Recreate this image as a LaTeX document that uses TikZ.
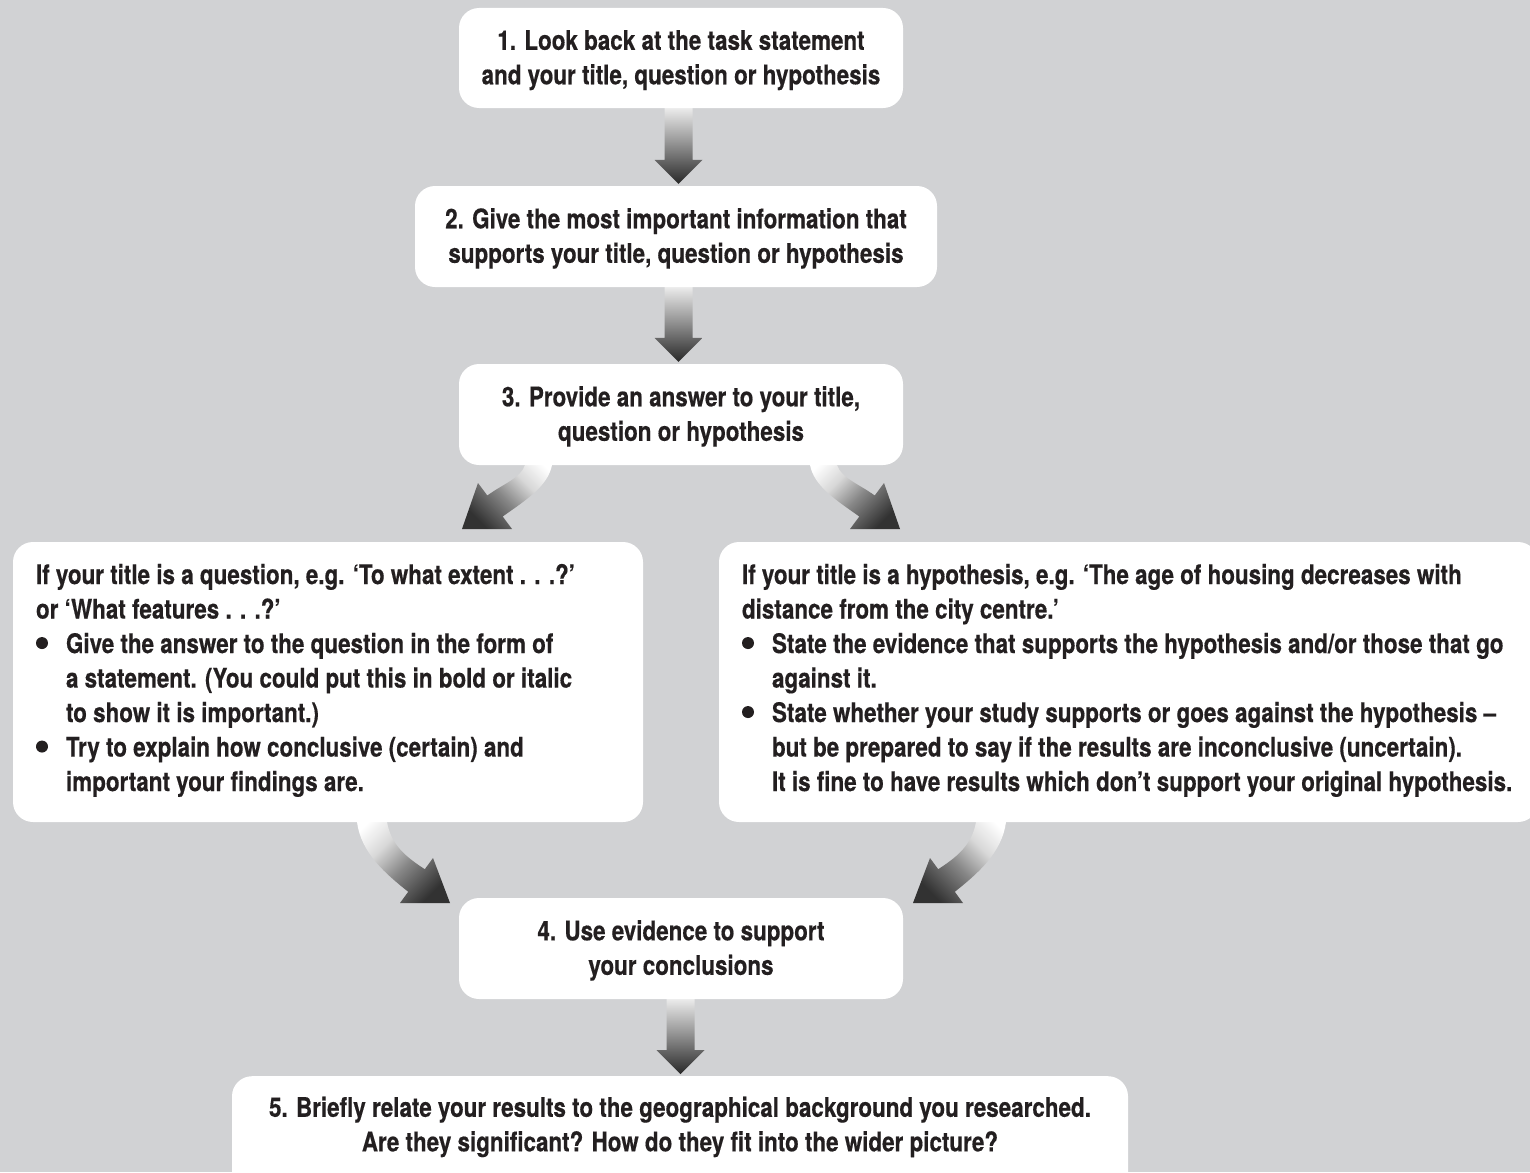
\documentclass[tikz,border=0pt]{standalone}
\usepackage{fontspec}
\setmainfont{TeX Gyre Heros}[FakeStretch=0.83, BoldFeatures={FakeBold=0.4}]
\usetikzlibrary{calc}

\definecolor{pagebg}{RGB}{209,210,212}
\definecolor{ink}{RGB}{35,31,32}
\definecolor{arrdark}{RGB}{40,40,40}
\definecolor{arrmid}{RGB}{150,150,150}
\definecolor{benddark}{RGB}{50,50,50}
\definecolor{bendmid}{RGB}{135,135,135}
\definecolor{bendlight}{RGB}{215,215,215}

% grey fade used by the straight arrows: white at the tail, dark at the tip
\pgfdeclareverticalshading{arrowfade}{100bp}{%
  color(0bp)=(arrdark); color(25bp)=(arrdark); color(50bp)=(arrmid);
  color(75bp)=(white); color(100bp)=(white)}
% grey fade used by the curved arrows (applied at an angle)
\pgfdeclareverticalshading{bendfade}{100bp}{%
  color(0bp)=(benddark); color(25bp)=(benddark); color(45bp)=(bendmid);
  color(60bp)=(bendlight); color(75bp)=(white); color(100bp)=(white)}

\pgfdeclarelayer{backdrop}
\pgfdeclarelayer{arrows}
\pgfsetlayers{backdrop,arrows,main}

\tikzset{
  stepbox/.style={fill=white, rounded corners=20pt, inner sep=0pt},
  flowtext/.style={text=ink, font=\bfseries\fontsize{27}{34.5}\selectfont,
    align=center, inner sep=0pt},
  flowarrow/.style={shading=arrowfade},
  bendarrow/.style={shading=bendfade},
}

% tall strut for the first line of each text block
\newcommand\lineup{\rule{0pt}{24pt}}
% round list bullet and list indentation
\newcommand\dotmark{\tikz[baseline=0pt]\fill[ink] (6pt,10pt) circle[radius=6pt];}
\newcommand\itemline{\makebox[30pt][l]{\dotmark}}
\newcommand\hangline{\hspace*{30pt}}

% straight downward arrow between two boxes
\newcommand\flowdown[2]{%
  \begin{pgfonlayer}{arrows}
  \shade[flowarrow] let \p1=(#1.south), \p2=(#2.north),
      \p3=($(#1.south)!0.5!(#2.north)$) in
    (\x3-14pt,\y1+8pt) -- (\x3+14pt,\y1+8pt) -- (\x3+14pt,\y2+26pt)
    -- (\x3+24pt,\y2+26pt) -- (\x3,\y2+2pt) -- (\x3-24pt,\y2+26pt)
    -- (\x3-14pt,\y2+26pt) -- cycle;
  \end{pgfonlayer}}

\begin{document}
\begin{tikzpicture}[x=1pt,y=-1pt]
\useasboundingbox (0,0) rectangle (1530,1172);
\begin{pgfonlayer}{backdrop}
  \fill[pagebg] (0,0) rectangle (1530,1172);
\end{pgfonlayer}

% boxes
\node[stepbox, flowtext, minimum width=444pt, minimum height=100pt] (b1) at (681,58)
  {\lineup 1. Look back at the task statement\\ and your title, question or hypothesis};
\node[stepbox, flowtext, minimum width=522pt, minimum height=101pt] (b2) at (676,236.5)
  {\lineup 2. Give the most important information that\\ supports your title, question or hypothesis};
\node[stepbox, flowtext, minimum width=444pt, minimum height=101pt] (b3) at (681,414.5)
  {\lineup 3. Provide an answer to your title,\\ question or hypothesis};

\node[stepbox, minimum width=630pt, minimum height=280pt] (bL) at (328,682) {};
\node[flowtext, align=left, anchor=west] (tL) at ([xshift=23pt,yshift=3.5pt]bL.west)
  {\lineup If your title is a question, e.g. ‘To what extent . . .?’\\
   or ‘What features . . .?’\\
   \itemline Give the answer to the question in the form of\\
   \hangline a statement. (You could put this in bold or italic\\
   \hangline to show it is important.)\\
   \itemline Try to explain how conclusive (certain) and\\
   \hangline important your findings are.};

\node[stepbox, minimum width=819pt, minimum height=280pt] (bR) at (1128.5,682) {};
\node[flowtext, align=left, anchor=west] (tR) at ([xshift=23pt,yshift=3.5pt]bR.west)
  {\lineup If your title is a hypothesis, e.g. ‘The age of housing decreases with\\
   distance from the city centre.’\\
   \itemline State the evidence that supports the hypothesis and/or those that go\\
   \hangline against it.\\
   \itemline State whether your study supports or goes against the hypothesis –\\
   \hangline but be prepared to say if the results are inconclusive (uncertain).\\
   \hangline It is fine to have results which don’t support your original hypothesis.};

\node[stepbox, flowtext, minimum width=444pt, minimum height=101pt] (b4) at (681,948.5)
  {\lineup 4. Use evidence to support\\ your conclusions};

\node[stepbox, anchor=north, minimum width=896pt, minimum height=150pt] (b5) at (680,1076) {};
\node[flowtext] (t5) at (680,1125)
  {\lineup 5. Briefly relate your results to the geographical background you researched.\\
   Are they significant? How do they fit into the wider picture?};

% straight arrows
\flowdown{b1}{b2}
\flowdown{b2}{b3}
\flowdown{b4}{b5}

% curved arrows
\begin{pgfonlayer}{arrows}
  % b3 -> bL
  \shade[bendarrow, shading angle=-45]
    (554,450) -- (552,465) .. controls (548,486) and (526,500) .. (502.7,516.5)
    -- (512,529) -- (462,529) -- (478,483) -- (487.3,495.5)
    .. controls (503,484) and (521,478) .. (525,465) -- (527,450) -- cycle;
  % b3 -> bR
  \shade[bendarrow, shading angle=45]
    (808,450) -- (810,465) .. controls (814,486) and (836,500) .. (859.3,516.5)
    -- (850,529) -- (900,529) -- (884,483) -- (874.7,495.5)
    .. controls (859,484) and (841,478) .. (837,465) -- (835,450) -- cycle;
  % bL -> b4
  \shade[bendarrow, shading angle=45]
    (355,807) -- (357,822) .. controls (361,853) and (386,874) .. (408.2,891.8)
    -- (400,903) -- (450,903) -- (433,858) -- (424.8,869.2)
    .. controls (406,857) and (391,845) .. (387,822) -- (385,807) -- cycle;
  % bR -> b4
  \shade[bendarrow, shading angle=-45]
    (1008,807) -- (1006,822) .. controls (1002,853) and (977,874) .. (954.8,891.8)
    -- (963,903) -- (913,903) -- (930,858) -- (938.2,869.2)
    .. controls (957,857) and (972,845) .. (976,822) -- (978,807) -- cycle;
\end{pgfonlayer}
\end{tikzpicture}
\end{document}
